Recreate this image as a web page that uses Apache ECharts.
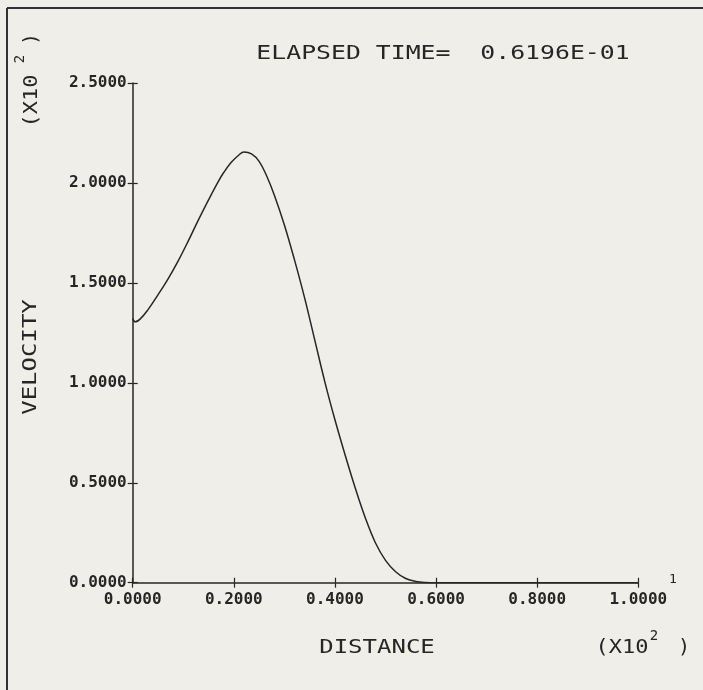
<!DOCTYPE html>
<html style="height: 100%">
<head>
    <meta charset="utf-8">
    <title>Velocity vs Distance</title>
    <script src="https://cdn.jsdelivr.net/npm/echarts@6/dist/echarts.min.js"></script>
</head>
<body style="height: 100%; margin: 0; background: #f0eee8">
    <div id="chart" style="width: 703px; height: 690px"></div>
    <script>
        // values (distance and velocity both in units of 10^2)
        const distance = [0, 0.005, 0.015, 0.03, 0.05, 0.07, 0.09, 0.11, 0.13, 0.15, 0.17, 0.18, 0.195,
            0.21, 0.22, 0.235, 0.25, 0.265, 0.28, 0.30, 0.32, 0.34, 0.36, 0.38, 0.40, 0.42, 0.44, 0.46,
            0.48, 0.50, 0.52, 0.54, 0.56, 0.58, 0.60, 0.80, 1.00];
        const velocity = [1.322, 1.305, 1.32, 1.365, 1.44, 1.52, 1.61, 1.71, 1.815, 1.915, 2.01, 2.052, 2.103,
            2.14, 2.155, 2.145, 2.108, 2.035, 1.94, 1.79, 1.615, 1.425, 1.215, 1.005, 0.815, 0.64, 0.475, 0.325,
            0.2, 0.112, 0.055, 0.021, 0.006, 0.001, 0, 0, 0];
        const xTicks = { min: 0, max: 1, interval: 0.2 };
        const yTicks = { min: 0, max: 2.5, interval: 0.5 };
        const titleText = 'ELAPSED TIME=  0.6196E-01';

        const mono = '"DejaVu Sans Mono", monospace';
        const ink = '#262626';

        function label(text, x, y, size, opts) {
            return Object.assign({
                type: 'text',
                x: x,
                y: y,
                silent: true,
                style: {
                    text: text,
                    font: size + 'px ' + mono,
                    fill: ink,
                    align: 'center',
                    verticalAlign: 'middle'
                }
            }, opts || {});
        }

        const up = { rotation: Math.PI / 2 };

        const option = {
            animation: false,
            backgroundColor: '#f0eee8',
            grid: { left: 132.7, right: 64.7, top: 83, bottom: 107.3 },
            xAxis: [{
                type: 'value',
                min: xTicks.min, max: xTicks.max, interval: xTicks.interval,
                splitLine: { show: false },
                axisLine: { lineStyle: { color: ink, width: 1.5 } },
                axisTick: { length: 5, lineStyle: { color: ink, width: 1.2 } },
                axisLabel: {
                    margin: 9,
                    color: ink,
                    fontFamily: mono,
                    fontSize: 16,
                    fontWeight: 'bold',
                    formatter: v => v.toFixed(4)
                }
            }, {
                // inner half of the cross-shaped ticks
                type: 'value', position: 'bottom',
                min: xTicks.min, max: xTicks.max, interval: xTicks.interval,
                splitLine: { show: false }, axisLine: { show: false }, axisLabel: { show: false },
                axisTick: { inside: true, length: 5, lineStyle: { color: ink, width: 1.2 } }
            }],
            yAxis: [{
                type: 'value',
                min: yTicks.min, max: yTicks.max, interval: yTicks.interval,
                splitLine: { show: false },
                axisLine: { show: true, lineStyle: { color: ink, width: 1.5 } },
                axisTick: { show: true, length: 5, lineStyle: { color: ink, width: 1.2 } },
                axisLabel: {
                    margin: 6,
                    color: ink,
                    fontFamily: mono,
                    fontSize: 16,
                    fontWeight: 'bold',
                    formatter: v => v.toFixed(4)
                }
            }, {
                type: 'value', position: 'left',
                min: yTicks.min, max: yTicks.max, interval: yTicks.interval,
                splitLine: { show: false }, axisLine: { show: false }, axisLabel: { show: false },
                axisTick: { show: true, inside: true, length: 5, lineStyle: { color: ink, width: 1.2 } }
            }],
            series: [{
                type: 'line',
                data: distance.map((d, i) => [d, velocity[i]]),
                smooth: 0.4,
                showSymbol: false,
                lineStyle: { color: ink, width: 1.5 }
            }],
            graphic: [
                // page frame (left and top edges)
                { type: 'line', silent: true, shape: { x1: 7, y1: 8, x2: 7, y2: 690 }, style: { stroke: '#333', lineWidth: 2 } },
                { type: 'line', silent: true, shape: { x1: 7, y1: 8, x2: 703, y2: 8 }, style: { stroke: '#333', lineWidth: 2 } },
                label(titleText, 443, 54, 20, { scaleX: 1.24 }),
                label('VELOCITY', 31, 357, 20, Object.assign({ scaleX: 1.2 }, up)),
                label('(X10', 32, 101, 20, Object.assign({ scaleX: 1.1 }, up)),
                label('2', 20, 59, 14, up),
                label(')', 32, 39, 20, up),
                label('DISTANCE', 377, 648, 20, { scaleX: 1.2 }),
                label('(X10', 622, 648, 20, { scaleX: 1.1 }),
                label('2', 654, 636, 14),
                label(')', 684, 648, 20),
                label('1', 673, 580, 13)
            ]
        };

        const chart = echarts.init(document.getElementById('chart'), null, { renderer: 'canvas' });
        chart.setOption(option);
    </script>
</body>
</html>
